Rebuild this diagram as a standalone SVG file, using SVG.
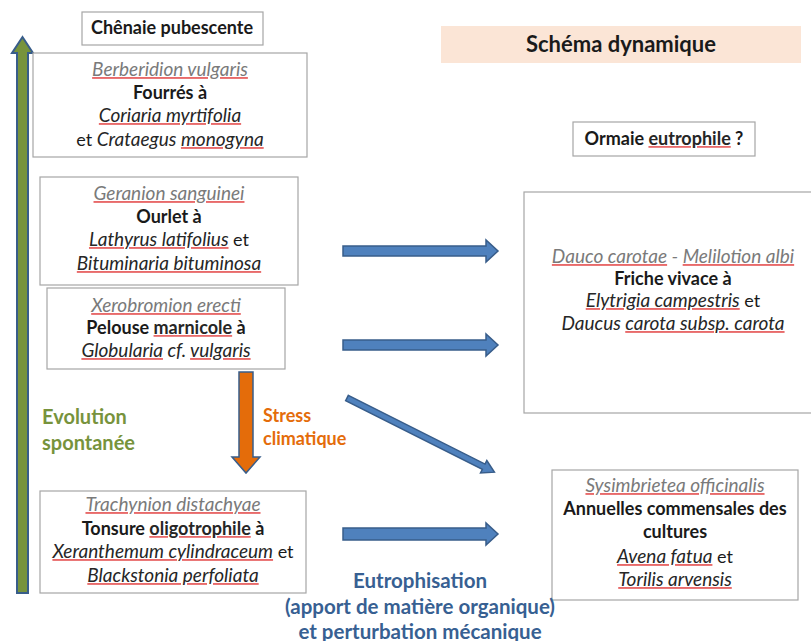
<svg xmlns="http://www.w3.org/2000/svg" width="811" height="641" viewBox="0 0 811 641">
<style>
.box{fill:#fff;stroke:#a6a6a6;stroke-width:1.2}
text{font-family:Lato,"Open Sans","Liberation Sans",sans-serif;font-size:18px;text-anchor:middle;fill:#1a1a1a}
.b{font-weight:bold}
.al{font-style:italic;font-size:19px}
.sp{font-style:italic;font-size:19px}
.w{text-decoration:underline;fill:#e86a6a}
.g{fill:#7a7a7a}
.k{fill:#262626}
.blue{fill:#4f81bd;stroke:#385d8a;stroke-width:1.5}
</style>
<rect width="811" height="641" fill="#fff"/>
<g id="connectors">
<path id="evolution-arrow" d="M17,593 V53 H12 L22.5,37 L33,53 H28 V593 Z" fill="#77933c" stroke="#385d8a" stroke-width="2"/>
<path id="stress-arrow" d="M239,372 H253 V457 H260 L246,473 L232,457 H239 Z" fill="#e46c0a" stroke="#385d8a" stroke-width="1.5"/>
<path class="blue" d="M343,246 H486 V240 L498,251 L486,262 V256 H343 Z"/>
<path class="blue" d="M343,340 H486 V334 L498,345 L486,356 V350 H343 Z"/>
<path class="blue" d="M343,528 H486 V523 L498,534 L486,545 V540 H343 Z"/>
<path class="blue" transform="translate(347,398) rotate(26.7)" d="M0,-3 H153 V-7 L165,0 L153,7 V3 H0 Z"/>
</g>
<g id="title">
<rect x="441" y="26" width="360" height="37" fill="#fbe5d6"/>
<text x="621" y="52" class="b" style="font-size:22px">Schéma dynamique</text>
</g>
<g id="chenaie">
<rect class="box" x="82" y="12" width="181" height="33"/>
<text x="172" y="34" class="b">Chênaie pubescente</text>
</g>
<g id="berberidion">
<rect class="box" x="33" y="53" width="274" height="104"/>
<text x="170" y="76" class="al"><tspan class="w"><tspan class="g">Berberidion vulgaris</tspan></tspan></text>
<text x="170" y="99" class="b">Fourrés à</text>
<text x="170" y="122" class="sp"><tspan class="w"><tspan class="k">Coriaria myrtifolia</tspan></tspan></text>
<text x="170" y="146">et <tspan class="sp k">Crataegus </tspan><tspan class="sp w"><tspan class="k">monogyna</tspan></tspan></text>
</g>
<g id="geranion">
<rect class="box" x="40" y="177" width="258" height="108"/>
<text x="169" y="200" class="al"><tspan class="w"><tspan class="g">Geranion sanguinei</tspan></tspan></text>
<text x="169" y="223" class="b">Ourlet à</text>
<text x="169" y="246"><tspan class="sp w"><tspan class="k">Lathyrus latifolius</tspan></tspan> et</text>
<text x="169" y="270" class="sp"><tspan class="w"><tspan class="k">Bituminaria bituminosa</tspan></tspan></text>
</g>
<g id="xerobromion">
<rect class="box" x="47" y="288" width="238" height="81"/>
<text x="166" y="312" class="al"><tspan class="w"><tspan class="g">Xerobromion erecti</tspan></tspan></text>
<text x="166" y="334" class="b">Pelouse <tspan class="w"><tspan class="k">marnicole</tspan></tspan> à</text>
<text x="166" y="357" class="sp k"><tspan class="w"><tspan class="k">Globularia</tspan></tspan> cf. <tspan class="w"><tspan class="k">vulgaris</tspan></tspan></text>
</g>
<g id="trachynion">
<rect class="box" x="40" y="491" width="266" height="102"/>
<text x="173" y="511" class="al"><tspan class="w"><tspan class="g">Trachynion distachyae</tspan></tspan></text>
<text x="173" y="535" class="b">Tonsure <tspan class="w"><tspan class="k">oligotrophile</tspan></tspan> à</text>
<text x="173" y="558"><tspan class="sp w"><tspan class="k">Xeranthemum cylindraceum</tspan></tspan> et</text>
<text x="173" y="582" class="sp"><tspan class="w"><tspan class="k">Blackstonia perfoliata</tspan></tspan></text>
</g>
<g id="ormaie">
<rect class="box" x="573" y="122" width="182" height="34"/>
<text x="664" y="145" class="b">Ormaie <tspan class="w"><tspan class="k">eutrophile</tspan></tspan> ?</text>
</g>
<g id="dauco">
<rect class="box" x="524" y="192" width="300" height="221"/>
<text x="673" y="263" class="al g"><tspan class="w"><tspan class="g">Dauco carotae</tspan></tspan> - <tspan class="w"><tspan class="g">Melilotion albi</tspan></tspan></text>
<text x="673" y="285" class="b">Friche vivace à</text>
<text x="673" y="307"><tspan class="sp w"><tspan class="k">Elytrigia campestris</tspan></tspan> et</text>
<text x="673" y="330" class="sp k">Daucus <tspan class="w"><tspan class="k">carota subsp. carota</tspan></tspan></text>
</g>
<g id="sysimbrietea">
<rect class="box" x="552" y="470" width="246" height="130"/>
<text x="675" y="492" class="al"><tspan class="w"><tspan class="g">Sysimbrietea officinalis</tspan></tspan></text>
<text x="675" y="515" class="b">Annuelles commensales des</text>
<text x="675" y="538" class="b">cultures</text>
<text x="675" y="563"><tspan class="sp w"><tspan class="k">Avena fatua</tspan></tspan> et</text>
<text x="675" y="586" class="sp"><tspan class="w"><tspan class="k">Torilis arvensis</tspan></tspan></text>
</g>
<g id="labels">
<text x="42" y="424" class="b" style="text-anchor:start;fill:#77933c;font-size:20px">Evolution</text>
<text x="42" y="450" class="b" style="text-anchor:start;fill:#77933c;font-size:20px">spontanée</text>
<text x="263" y="422" class="b" style="text-anchor:start;fill:#e46c0a">Stress</text>
<text x="263" y="445" class="b" style="text-anchor:start;fill:#e46c0a">climatique</text>
<text x="420" y="588" class="b" style="fill:#376092;font-size:20.5px">Eutrophisation</text>
<text x="420" y="614" class="b" style="fill:#376092;font-size:20.5px">(apport de matière organique)</text>
<text x="420" y="639" class="b" style="fill:#376092;font-size:20.5px">et perturbation mécanique</text>
</g>
</svg>
